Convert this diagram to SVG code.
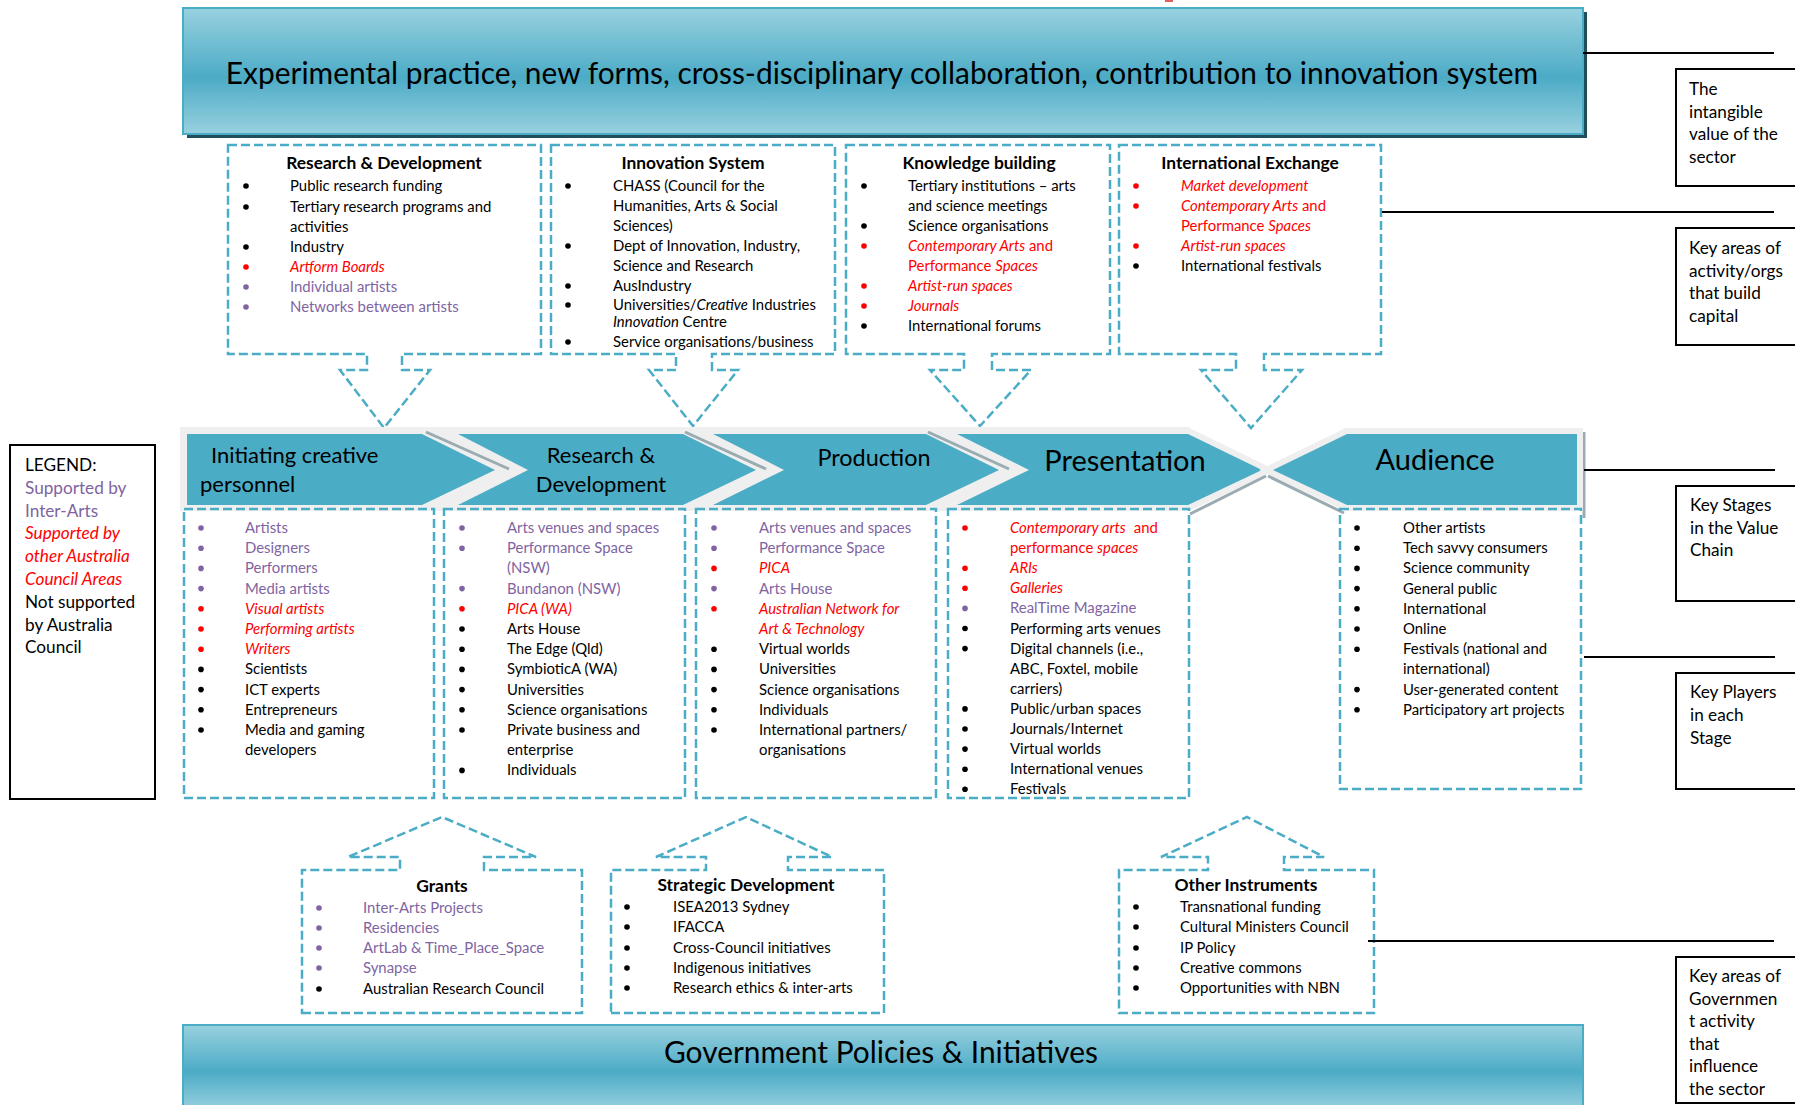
<svg xmlns="http://www.w3.org/2000/svg" width="1795" height="1105" viewBox="0 0 1795 1105">
<defs>
<linearGradient id="bannerGrad" x1="0" y1="0" x2="0" y2="1">
<stop offset="0" stop-color="#98d1df"/>
<stop offset="0.55" stop-color="#4cabc6"/>
<stop offset="1" stop-color="#98d1df"/>
</linearGradient>
<clipPath id="clipD"><rect x="948" y="509" width="241" height="288"/></clipPath>
</defs>
<style>
text{font-family:Lato,"Liberation Sans",sans-serif;fill:#000}
.t{font-size:14.9px}
.h{font-size:17.4px;font-weight:bold;text-anchor:middle}
.lg{font-size:17.2px}
.p{fill:#8064a2}
.r{fill:#ff0000}
.i{font-style:italic}
.dash{fill:none;stroke:#4bacc6;stroke-width:2.5;stroke-dasharray:9 4}
.bk{fill:#000}
.bp{fill:#8064a2}
.br{fill:#ff0000}
.lbl{fill:#fff;stroke:#000;stroke-width:2}
.conn{stroke:#000;stroke-width:2;fill:none}
.chev{fill:#4bacc6;stroke:#efefef;stroke-width:12;stroke-linejoin:miter;paint-order:stroke}
.shade{stroke:#9aabb1;stroke-width:3;fill:none}
.stage{font-size:22px}
.big{font-size:29px}
</style>

<rect x="1165" y="0" width="8" height="2" fill="#e06060"/>

<g id="banner-top">
<rect x="187" y="12" width="1400" height="126" fill="#1f4f5c"/>
<rect x="183" y="8" width="1400" height="126" fill="url(#bannerGrad)" stroke="#4bacc6" stroke-width="2"/>
<text x="882" y="84" font-size="29.9" text-anchor="middle">Experimental practice, new forms, cross-disciplinary collaboration, contribution to innovation system</text>
</g>

<g id="box-research-development">
<path class="dash" d="M228,145 H541 V354 H402 V370 H430 L384,428 L340,370 H367 V354 H228 Z"/>
<text class="h" x="384" y="169">Research &amp; Development</text>
<circle class="bk" cx="246" cy="186" r="2.8"/><text class="t" x="290" y="191">Public research funding</text>
<circle class="bk" cx="246" cy="207" r="2.8"/><text class="t" x="290" y="212">Tertiary research programs and</text>
<text class="t" x="290" y="232">activities</text>
<circle class="bk" cx="246" cy="247" r="2.8"/><text class="t" x="290" y="252">Industry</text>
<circle class="br" cx="246" cy="267" r="2.8"/><text class="t r i" x="290" y="272">Artform Boards</text>
<circle class="bp" cx="246" cy="287" r="2.8"/><text class="t p" x="290" y="292">Individual artists</text>
<circle class="bp" cx="246" cy="307" r="2.8"/><text class="t p" x="290" y="312">Networks between artists</text>
</g>

<g id="box-innovation-system">
<path class="dash" d="M551,145 H835 V354 H712 V370 H738 L693,426 L649,370 H676 V354 H551 Z"/>
<text class="h" x="693" y="169">Innovation System</text>
<circle class="bk" cx="568" cy="186" r="2.8"/><text class="t" x="613" y="191">CHASS (Council for the</text>
<text class="t" x="613" y="211">Humanities, Arts &amp; Social</text>
<text class="t" x="613" y="231">Sciences)</text>
<circle class="bk" cx="568" cy="246" r="2.8"/><text class="t" x="613" y="251">Dept of Innovation, Industry,</text>
<text class="t" x="613" y="271">Science and Research</text>
<circle class="bk" cx="568" cy="286" r="2.8"/><text class="t" x="613" y="291">AusIndustry</text>
<circle class="bk" cx="568" cy="305" r="2.8"/><text class="t" x="613" y="310">Universities/<tspan class="i">Creative</tspan> Industries</text>
<text class="t" x="613" y="327"><tspan class="i">Innovation</tspan> Centre</text>
<circle class="bk" cx="568" cy="342" r="2.8"/><text class="t" x="613" y="347">Service organisations/business</text>
</g>

<g id="box-knowledge-building">
<path class="dash" d="M846,145 H1110 V354 H992 V370 H1031 L980,426 L930,370 H964 V354 H846 Z"/>
<text class="h" x="979" y="169">Knowledge building</text>
<circle class="bk" cx="864" cy="186" r="2.8"/><text class="t" x="908" y="191">Tertiary institutions – arts</text>
<text class="t" x="908" y="211">and science meetings</text>
<circle class="bk" cx="864" cy="226" r="2.8"/><text class="t" x="908" y="231">Science organisations</text>
<circle class="br" cx="864" cy="246" r="2.8"/><text class="t r" x="908" y="251"><tspan class="i">Contemporary Arts</tspan> and</text>
<text class="t r" x="908" y="271">Performance <tspan class="i">Spaces</tspan></text>
<circle class="br" cx="864" cy="286" r="2.8"/><text class="t r i" x="908" y="291">Artist-run spaces</text>
<circle class="br" cx="864" cy="306" r="2.8"/><text class="t r i" x="908" y="311">Journals</text>
<circle class="bk" cx="864" cy="326" r="2.8"/><text class="t" x="908" y="331">International forums</text>
</g>

<g id="box-international-exchange">
<path class="dash" d="M1119,145 H1381 V354 H1264 V370 H1302 L1251,428 L1201,370 H1236 V354 H1119 Z"/>
<text class="h" x="1250" y="169">International Exchange</text>
<circle class="br" cx="1136" cy="186" r="2.8"/><text class="t r i" x="1181" y="191">Market development</text>
<circle class="br" cx="1136" cy="206" r="2.8"/><text class="t r" x="1181" y="211"><tspan class="i">Contemporary Arts</tspan> and</text>
<text class="t r" x="1181" y="231">Performance <tspan class="i">Spaces</tspan></text>
<circle class="br" cx="1136" cy="246" r="2.8"/><text class="t r i" x="1181" y="251">Artist-run spaces</text>
<circle class="bk" cx="1136" cy="266" r="2.8"/><text class="t" x="1181" y="271">International festivals</text>
</g>

<g id="value-chain">
<rect x="180" y="427" width="1010" height="84" fill="#efefef"/>
<g id="stage-initiating">
<polygon class="chev" points="187,434 422,434 495,470 422,505 187,505"/>
<text class="stage" x="211" y="463">Initiating creative</text>
<text class="stage" x="200" y="492">personnel</text>
</g>
<g id="stage-research">
<polygon class="chev" points="458,434 683,434 756,470 683,505 458,505 528,470"/>
<text class="stage" x="601" y="463" text-anchor="middle">Research &amp;</text>
<text class="stage" x="601" y="492" text-anchor="middle">Development</text>
</g>
<g id="stage-production">
<polygon class="chev" points="713,434 926,434 999,470 926,505 713,505 784,470"/>
<text x="874" y="466" font-size="23.4" text-anchor="middle">Production</text>
</g>
<g id="stage-presentation">
<polygon class="chev" points="957,434 1188,434 1262,470 1188,505 957,505 1029,470"/>
<text class="big" x="1125" y="471" text-anchor="middle">Presentation</text>
</g>
<g id="stage-audience">
<line x1="1584" y1="432" x2="1584" y2="518" stroke="#9aabb1" stroke-width="3"/>
<polygon class="chev" points="1347,434 1577,434 1577,505 1347,505 1273,470"/>
<text class="big" x="1435" y="470" text-anchor="middle">Audience</text>
</g>
<line class="shade" x1="426" y1="432" x2="509" y2="469"/>
<line class="shade" x1="685" y1="432" x2="766" y2="469"/>
<line class="shade" x1="928" y1="432" x2="1009" y2="469"/>
<line class="shade" x1="1190" y1="514" x2="1266" y2="476" stroke-width="4"/>
<line class="shade" x1="1268" y1="476" x2="1344" y2="513"/>
</g>

<g id="players-initiating">
<rect class="dash" x="184" y="509" width="250" height="289"/>
<circle class="bp" cx="201" cy="528" r="2.8"/><text class="t p" x="245" y="533">Artists</text>
<circle class="bp" cx="201" cy="548.2" r="2.8"/><text class="t p" x="245" y="553.2">Designers</text>
<circle class="bp" cx="201" cy="568.4" r="2.8"/><text class="t p" x="245" y="573.4">Performers</text>
<circle class="bp" cx="201" cy="588.6" r="2.8"/><text class="t p" x="245" y="593.6">Media artists</text>
<circle class="br" cx="201" cy="608.8" r="2.8"/><text class="t r i" x="245" y="613.8">Visual artists</text>
<circle class="br" cx="201" cy="629" r="2.8"/><text class="t r i" x="245" y="634">Performing artists</text>
<circle class="br" cx="201" cy="649.2" r="2.8"/><text class="t r i" x="245" y="654.2">Writers</text>
<circle class="bk" cx="201" cy="669.4" r="2.8"/><text class="t" x="245" y="674.4">Scientists</text>
<circle class="bk" cx="201" cy="689.6" r="2.8"/><text class="t" x="245" y="694.6">ICT experts</text>
<circle class="bk" cx="201" cy="709.8" r="2.8"/><text class="t" x="245" y="714.8">Entrepreneurs</text>
<circle class="bk" cx="201" cy="730" r="2.8"/><text class="t" x="245" y="735">Media and gaming</text>
<text class="t" x="245" y="755.2">developers</text>
</g>

<g id="players-research">
<rect class="dash" x="444" y="509" width="241" height="289"/>
<circle class="bp" cx="462" cy="528" r="2.8"/><text class="t p" x="507" y="533">Arts venues and spaces</text>
<circle class="bp" cx="462" cy="548.2" r="2.8"/><text class="t p" x="507" y="553.2">Performance Space</text>
<text class="t p" x="507" y="573.4">(NSW)</text>
<circle class="bp" cx="462" cy="588.6" r="2.8"/><text class="t p" x="507" y="593.6">Bundanon (NSW)</text>
<circle class="br" cx="462" cy="608.8" r="2.8"/><text class="t r i" x="507" y="613.8">PICA (WA)</text>
<circle class="bk" cx="462" cy="629" r="2.8"/><text class="t" x="507" y="634">Arts House</text>
<circle class="bk" cx="462" cy="649.2" r="2.8"/><text class="t" x="507" y="654.2">The Edge (Qld)</text>
<circle class="bk" cx="462" cy="669.4" r="2.8"/><text class="t" x="507" y="674.4">SymbioticA (WA)</text>
<circle class="bk" cx="462" cy="689.6" r="2.8"/><text class="t" x="507" y="694.6">Universities</text>
<circle class="bk" cx="462" cy="709.8" r="2.8"/><text class="t" x="507" y="714.8">Science organisations</text>
<circle class="bk" cx="462" cy="730" r="2.8"/><text class="t" x="507" y="735">Private business and</text>
<text class="t" x="507" y="755.2">enterprise</text>
<circle class="bk" cx="462" cy="770.4" r="2.8"/><text class="t" x="507" y="775.4">Individuals</text>
</g>

<g id="players-production">
<rect class="dash" x="696" y="509" width="240" height="289"/>
<circle class="bp" cx="714" cy="528" r="2.8"/><text class="t p" x="759" y="533">Arts venues and spaces</text>
<circle class="bp" cx="714" cy="548.2" r="2.8"/><text class="t p" x="759" y="553.2">Performance Space</text>
<circle class="br" cx="714" cy="568.4" r="2.8"/><text class="t r i" x="759" y="573.4">PICA</text>
<circle class="bp" cx="714" cy="588.6" r="2.8"/><text class="t p" x="759" y="593.6">Arts House</text>
<circle class="br" cx="714" cy="608.8" r="2.8"/><text class="t r i" x="759" y="613.8">Australian Network for</text>
<text class="t r i" x="759" y="634">Art &amp; Technology</text>
<circle class="bk" cx="714" cy="649.2" r="2.8"/><text class="t" x="759" y="654.2">Virtual worlds</text>
<circle class="bk" cx="714" cy="669.4" r="2.8"/><text class="t" x="759" y="674.4">Universities</text>
<circle class="bk" cx="714" cy="689.6" r="2.8"/><text class="t" x="759" y="694.6">Science organisations</text>
<circle class="bk" cx="714" cy="709.8" r="2.8"/><text class="t" x="759" y="714.8">Individuals</text>
<circle class="bk" cx="714" cy="730" r="2.8"/><text class="t" x="759" y="735">International partners/</text>
<text class="t" x="759" y="755.2">organisations</text>
</g>

<g id="players-presentation">
<rect class="dash" x="948" y="509" width="241" height="289"/>
<g clip-path="url(#clipD)">
<circle class="br" cx="965" cy="528" r="2.8"/><text class="t r" x="1010" y="533"><tspan class="i">Contemporary arts</tspan><tspan dx="8">and</tspan></text>
<text class="t r" x="1010" y="553.1">performance <tspan class="i">spaces</tspan></text>
<circle class="br" cx="965" cy="568.2" r="2.8"/><text class="t r i" x="1010" y="573.2">ARIs</text>
<circle class="br" cx="965" cy="588.3" r="2.8"/><text class="t r i" x="1010" y="593.3">Galleries</text>
<circle class="bp" cx="965" cy="608.4" r="2.8"/><text class="t p" x="1010" y="613.4">RealTime Magazine</text>
<circle class="bk" cx="965" cy="628.5" r="2.8"/><text class="t" x="1010" y="633.5">Performing arts venues</text>
<circle class="bk" cx="965" cy="648.6" r="2.8"/><text class="t" x="1010" y="653.6">Digital channels (i.e.,</text>
<text class="t" x="1010" y="673.7">ABC, Foxtel, mobile</text>
<text class="t" x="1010" y="693.8">carriers)</text>
<circle class="bk" cx="965" cy="708.9" r="2.8"/><text class="t" x="1010" y="713.9">Public/urban spaces</text>
<circle class="bk" cx="965" cy="729" r="2.8"/><text class="t" x="1010" y="734">Journals/Internet</text>
<circle class="bk" cx="965" cy="749.1" r="2.8"/><text class="t" x="1010" y="754.1">Virtual worlds</text>
<circle class="bk" cx="965" cy="769.2" r="2.8"/><text class="t" x="1010" y="774.2">International venues</text>
<circle class="bk" cx="965" cy="789.3" r="2.8"/><text class="t" x="1010" y="794.3">Festivals</text>
</g>
</g>

<g id="players-audience">
<rect class="dash" x="1340" y="509" width="241" height="280"/>
<circle class="bk" cx="1357" cy="528" r="2.8"/><text class="t" x="1403" y="533">Other artists</text>
<circle class="bk" cx="1357" cy="548.2" r="2.8"/><text class="t" x="1403" y="553.2">Tech savvy consumers</text>
<circle class="bk" cx="1357" cy="568.4" r="2.8"/><text class="t" x="1403" y="573.4">Science community</text>
<circle class="bk" cx="1357" cy="588.6" r="2.8"/><text class="t" x="1403" y="593.6">General public</text>
<circle class="bk" cx="1357" cy="608.8" r="2.8"/><text class="t" x="1403" y="613.8">International</text>
<circle class="bk" cx="1357" cy="629" r="2.8"/><text class="t" x="1403" y="634">Online</text>
<circle class="bk" cx="1357" cy="649.2" r="2.8"/><text class="t" x="1403" y="654.2">Festivals (national and</text>
<text class="t" x="1403" y="674.4">international)</text>
<circle class="bk" cx="1357" cy="689.6" r="2.8"/><text class="t" x="1403" y="694.6">User-generated content</text>
<circle class="bk" cx="1357" cy="709.8" r="2.8"/><text class="t" x="1403" y="714.8">Participatory art projects</text>
</g>

<g id="box-grants">
<path class="dash" d="M302,1013 H582 V870 H484 V857 H536 L442,817 L348,857 H400 V870 H302 Z"/>
<text class="h" x="442" y="892">Grants</text>
<circle class="bp" cx="319" cy="908" r="2.8"/><text class="t p" x="363" y="913">Inter-Arts Projects</text>
<circle class="bp" cx="319" cy="928" r="2.8"/><text class="t p" x="363" y="933">Residencies</text>
<circle class="bp" cx="319" cy="948" r="2.8"/><text class="t p" x="363" y="953">ArtLab &amp; Time_Place_Space</text>
<circle class="bp" cx="319" cy="968" r="2.8"/><text class="t p" x="363" y="973">Synapse</text>
<circle class="bk" cx="319" cy="989" r="2.8"/><text class="t" x="363" y="994">Australian Research Council</text>
</g>

<g id="box-strategic-development">
<path class="dash" d="M611,1013 H884 V870 H788 V857 H832 L746,817 L656,857 H706 V870 H611 Z"/>
<text class="h" x="746" y="891">Strategic Development</text>
<circle class="bk" cx="627" cy="907" r="2.8"/><text class="t" x="673" y="912">ISEA2013 Sydney</text>
<circle class="bk" cx="627" cy="927" r="2.8"/><text class="t" x="673" y="932">IFACCA</text>
<circle class="bk" cx="627" cy="948" r="2.8"/><text class="t" x="673" y="953">Cross-Council initiatives</text>
<circle class="bk" cx="627" cy="968" r="2.8"/><text class="t" x="673" y="973">Indigenous initiatives</text>
<circle class="bk" cx="627" cy="988" r="2.8"/><text class="t" x="673" y="993">Research ethics &amp; inter-arts</text>
</g>

<g id="box-other-instruments">
<path class="dash" d="M1119,1013 H1374 V870 H1284 V857 H1324 L1247,817 L1161,857 H1208 V870 H1119 Z"/>
<text class="h" x="1246" y="891">Other Instruments</text>
<circle class="bk" cx="1136" cy="907" r="2.8"/><text class="t" x="1180" y="912">Transnational funding</text>
<circle class="bk" cx="1136" cy="927" r="2.8"/><text class="t" x="1180" y="932">Cultural Ministers Council</text>
<circle class="bk" cx="1136" cy="948" r="2.8"/><text class="t" x="1180" y="953">IP Policy</text>
<circle class="bk" cx="1136" cy="968" r="2.8"/><text class="t" x="1180" y="973">Creative commons</text>
<circle class="bk" cx="1136" cy="988" r="2.8"/><text class="t" x="1180" y="993">Opportunities with NBN</text>
</g>

<g id="banner-bottom">
<rect x="183" y="1025" width="1400" height="85" fill="url(#bannerGrad)" stroke="#4bacc6" stroke-width="2"/>
<text x="881" y="1063" font-size="29.9" text-anchor="middle">Government Policies &amp; Initiatives</text>
</g>

<g id="legend">
<rect x="10" y="445" width="145" height="354" fill="#fff" stroke="#000" stroke-width="2"/>
<text class="lg" x="25" y="471">LEGEND:</text>
<text class="lg p" x="25" y="493.8">Supported by</text>
<text class="lg p" x="25" y="516.6">Inter-Arts</text>
<text class="lg r i" x="25" y="539.4">Supported by</text>
<text class="lg r i" x="25" y="562.2" font-size="18">other Australia</text>
<text class="lg r i" x="25" y="585" font-size="18">Council Areas</text>
<text class="lg" x="25" y="607.8">Not supported</text>
<text class="lg" x="25" y="630.6">by Australia</text>
<text class="lg" x="25" y="653.4">Council</text>
</g>

<g id="label-intangible">
<rect class="lbl" x="1676" y="69" width="130" height="117"/>
<text class="lg" x="1689" y="95">The</text>
<text class="lg" x="1689" y="117.5">intangible</text>
<text class="lg" x="1689" y="140">value of the</text>
<text class="lg" x="1689" y="162.5">sector</text>
</g>
<g id="label-key-areas">
<rect class="lbl" x="1676" y="228" width="130" height="117"/>
<text class="lg" x="1689" y="254">Key areas of</text>
<text class="lg" x="1689" y="276.5">activity/orgs</text>
<text class="lg" x="1689" y="299">that build</text>
<text class="lg" x="1689" y="321.5">capital</text>
</g>
<g id="label-key-stages">
<rect class="lbl" x="1676" y="486" width="130" height="115"/>
<text class="lg" x="1690" y="511">Key Stages</text>
<text class="lg" x="1690" y="533.5">in the Value</text>
<text class="lg" x="1690" y="556">Chain</text>
</g>
<g id="label-key-players">
<rect class="lbl" x="1676" y="673" width="130" height="116"/>
<text class="lg" x="1690" y="698">Key Players</text>
<text class="lg" x="1690" y="721">in each</text>
<text class="lg" x="1690" y="744">Stage</text>
</g>
<g id="label-government">
<rect class="lbl" x="1676" y="957" width="130" height="146"/>
<text class="lg" x="1689" y="982">Key areas of</text>
<text class="lg" x="1689" y="1004.5">Governmen</text>
<text class="lg" x="1689" y="1027">t activity</text>
<text class="lg" x="1689" y="1049.5">that</text>
<text class="lg" x="1689" y="1072">influence</text>
<text class="lg" x="1689" y="1094.5">the sector</text>
</g>

<g id="connectors">
<line class="conn" x1="1583" y1="53" x2="1774" y2="53"/>
<line class="conn" x1="1382" y1="212" x2="1774" y2="212"/>
<line class="conn" x1="1584" y1="470" x2="1775" y2="470"/>
<line class="conn" x1="1584" y1="657" x2="1775" y2="657"/>
<line class="conn" x1="1368" y1="941" x2="1774" y2="941"/>
</g>
</svg>
